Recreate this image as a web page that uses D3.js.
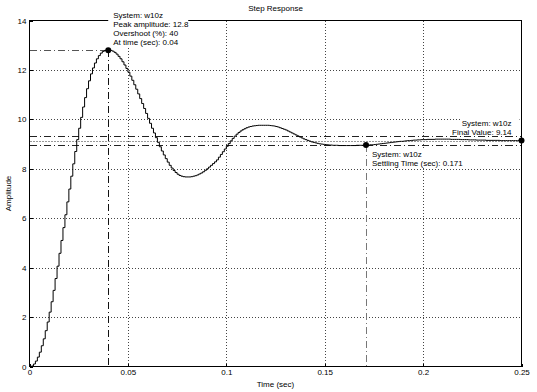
<!DOCTYPE html>
<html>
<head>
<meta charset="utf-8">
<script src="https://cdn.jsdelivr.net/npm/d3@7/dist/d3.min.js"></script>
<style>
  html, body { margin: 0; padding: 0; background: #fff; }
  svg { display: block; font-family: Arial, "Liberation Sans", sans-serif; }
</style>
</head>
<body>
<svg id="chart" width="537" height="392"></svg>
<script>
// ---- data ----
const sampleTime = 0.001;
const amplitude = [
  0, 0.02, 0.1, 0.22, 0.38, 0.58, 0.84, 1.12, 1.45, 1.8,
  2.2, 2.62, 3.08, 3.56, 4.06, 4.58, 5.1, 5.62, 6.14, 6.66,
  7.18, 7.7, 8.2, 8.7, 9.18, 9.64, 10.08, 10.5, 10.88, 11.24,
  11.56, 11.84, 12.08, 12.28, 12.45, 12.58, 12.68, 12.75, 12.79, 12.8,
  12.8, 12.79, 12.76, 12.71, 12.64, 12.55, 12.45, 12.33, 12.2, 12.06,
  11.91, 11.75, 11.58, 11.4, 11.22, 11.03, 10.84, 10.64, 10.44, 10.24,
  10.04, 9.84, 9.64, 9.45, 9.26, 9.07, 8.89, 8.72, 8.56, 8.41,
  8.27, 8.14, 8.03, 7.93, 7.85, 7.78, 7.73, 7.7, 7.68, 7.67,
  7.67, 7.67, 7.68, 7.7, 7.72, 7.75, 7.79, 7.83, 7.88, 7.94,
  8.0, 8.07, 8.14, 8.21, 8.28, 8.36, 8.47, 8.58, 8.69, 8.8,
  8.91, 9.02, 9.13, 9.23, 9.32, 9.4, 9.47, 9.53, 9.58, 9.62,
  9.66, 9.69, 9.71, 9.73, 9.74, 9.75, 9.76, 9.76, 9.76, 9.76,
  9.76, 9.76, 9.75, 9.74, 9.73, 9.71, 9.69, 9.66, 9.63, 9.6,
  9.57, 9.53, 9.49, 9.45, 9.41, 9.37, 9.33, 9.29, 9.25, 9.21,
  9.18, 9.15, 9.12, 9.09, 9.07, 9.05, 9.03, 9.01, 9.0, 8.99,
  8.98, 8.97, 8.96, 8.96, 8.95, 8.95, 8.95, 8.94, 8.94, 8.94,
  8.94, 8.94, 8.94, 8.94, 8.94, 8.94, 8.95, 8.95, 8.95, 8.95,
  8.95, 8.96, 8.96, 8.97, 8.97, 8.98, 8.99, 9.0, 9.01, 9.02,
  9.03, 9.04, 9.05, 9.06, 9.07, 9.08, 9.09, 9.1, 9.11, 9.11,
  9.12, 9.13, 9.14, 9.14, 9.15, 9.16, 9.16, 9.17, 9.17, 9.18,
  9.18, 9.18, 9.19, 9.19, 9.19, 9.19, 9.2, 9.2, 9.2, 9.2,
  9.2, 9.2, 9.2, 9.2, 9.19, 9.19, 9.19, 9.19, 9.19, 9.18,
  9.18, 9.18, 9.18, 9.17, 9.17, 9.17, 9.17, 9.16, 9.16, 9.16,
  9.16, 9.16, 9.15, 9.15, 9.15, 9.15, 9.15, 9.15, 9.15, 9.14,
  9.14, 9.14, 9.14, 9.14, 9.14, 9.14, 9.14, 9.14, 9.14, 9.14,
  9.14
];
const xTicks = [0, 0.05, 0.1, 0.15, 0.2, 0.25];
const xTickLabels = ["0", "0.05", "0.1", "0.15", "0.2", "0.25"];
const yTicks = [0, 2, 4, 6, 8, 10, 12, 14];
const yTickLabels = ["0", "2", "4", "6", "8", "10", "12", "14"];
const systemName = "w10z";
const peakTime = 0.04, peakAmplitude = 12.8, overshootPct = 40;
const settlingTime = 0.171, settlingValue = 8.96;
const finalValue = 9.14, settlingBand = 0.02;
const xDomain = [0, 0.25], yDomain = [0, 14];

// ---- drawing ----
(function () {
const svg = d3.select("#chart");
const pLeft = 29.5, pRight = 521.5, pTop = 20.5, pBottom = 366.5;
const x = d3.scaleLinear().domain(xDomain).range([pLeft, pRight]);
const y = d3.scaleLinear().domain(yDomain).range([pBottom, pTop]);
const series = amplitude.map((v, i) => ({ t: i * sampleTime, v }));

svg.append("rect").attr("width", 537).attr("height", 392).attr("fill", "#fff");

// grid
const grid = svg.append("g").attr("stroke", "#444").attr("stroke-width", 1)
  .attr("stroke-dasharray", "1,2").attr("shape-rendering", "crispEdges");
xTicks.filter(t => t > xDomain[0] && t < xDomain[1]).forEach(t => {
  const xx = Math.round(x(t)) + 0.5;
  grid.append("line").attr("x1", xx).attr("x2", xx).attr("y1", pTop).attr("y2", pBottom);
});
yTicks.filter(t => t > yDomain[0] && t < yDomain[1]).forEach(t => {
  const yy = Math.round(y(t)) + 0.5;
  grid.append("line").attr("x1", pLeft).attr("x2", pRight).attr("y1", yy).attr("y2", yy);
});

// axes (inside ticks, labels)
const xAxis = d3.axisBottom(x).tickValues(xTicks).tickFormat((d, i) => xTickLabels[i]).tickSizeInner(-3).tickSizeOuter(0).tickPadding(3);
const yAxis = d3.axisLeft(y).tickValues(yTicks).tickFormat((d, i) => yTickLabels[i]).tickSizeInner(-3).tickSizeOuter(0).tickPadding(3);
const gx = svg.append("g").attr("transform", `translate(0,${pBottom})`).call(xAxis);
const gy = svg.append("g").attr("transform", `translate(${pLeft},0)`).call(yAxis);
[gx, gy].forEach(g => {
  g.select(".domain").remove();
  g.selectAll("line").attr("stroke", "#000").attr("shape-rendering", "crispEdges");
  g.selectAll("text").attr("font-size", 8).attr("fill", "#000");
});
gx.selectAll("text").attr("dy", "0.71em");

// settling band and final value reference lines
const refs = svg.append("g").attr("shape-rendering", "crispEdges");
[finalValue * (1 + settlingBand), finalValue * (1 - settlingBand)].forEach(v => {
  refs.append("line").attr("x1", pLeft).attr("x2", pRight)
    .attr("y1", Math.round(y(v)) + 0.5).attr("y2", Math.round(y(v)) + 0.5)
    .attr("stroke", "#222").attr("stroke-dasharray", "7,3,1,3");
});
refs.append("line").attr("x1", pLeft).attr("x2", pRight)
  .attr("y1", Math.round(y(finalValue)) + 0.5).attr("y2", Math.round(y(finalValue)) + 0.5)
  .attr("stroke", "#999").attr("stroke-dasharray", "2,1");

// peak reference lines
refs.append("line").attr("x1", pLeft).attr("x2", x(peakTime))
  .attr("y1", Math.round(y(peakAmplitude)) + 0.5).attr("y2", Math.round(y(peakAmplitude)) + 0.5)
  .attr("stroke", "#555").attr("stroke-dasharray", "7,3,1,3");
refs.append("line").attr("x1", Math.round(x(peakTime)) + 0.5).attr("x2", Math.round(x(peakTime)) + 0.5)
  .attr("y1", y(peakAmplitude)).attr("y2", pBottom)
  .attr("stroke", "#111").attr("stroke-dasharray", "7,3,1,3");
// settling vertical line
refs.append("line").attr("x1", Math.round(x(settlingTime)) + 0.5).attr("x2", Math.round(x(settlingTime)) + 0.5)
  .attr("y1", y(settlingValue)).attr("y2", pBottom)
  .attr("stroke", "#777").attr("stroke-dasharray", "7,3,1,3");

// response (stairs)
const line = d3.line().x(d => x(d.t)).y(d => y(d.v)).curve(d3.curveStepAfter);
svg.append("path").datum(series).attr("d", line)
  .attr("fill", "none").attr("stroke", "#000").attr("stroke-width", 1);

// axes box
svg.append("rect").attr("x", pLeft).attr("y", pTop).attr("width", pRight - pLeft).attr("height", pBottom - pTop)
  .attr("fill", "none").attr("stroke", "#000").attr("shape-rendering", "crispEdges");

// data tips
function tip(lines, bx, by, bw, bh, tx, anchor, ty0) {
  svg.append("rect").attr("x", bx).attr("y", by).attr("width", bw).attr("height", bh).attr("fill", "#fff");
  lines.forEach((s, i) => {
    svg.append("text").attr("x", tx).attr("y", ty0 + i * 9).attr("dy", "0.35em")
      .attr("text-anchor", anchor).attr("font-size", 8).attr("fill", "#000").text(s);
  });
}
const px = x(peakTime), py = y(peakAmplitude);
tip([`System: ${systemName}`, `Peak amplitude: ${peakAmplitude}`, `Overshoot (%): ${overshootPct}`, `At time (sec): ${peakTime}`],
  px, py - 41, 80, 38, px + 5, "start", py - 34.5);
const fx = x(xDomain[1]), fy = y(finalValue);
tip([`System: ${systemName}`, `Final Value: ${finalValue}`], fx - 60, fy - 24, 58, 18, fx - 10, "end", fy - 17.5);
const sx = x(settlingTime), sy = y(settlingValue);
tip([`System: ${systemName}`, `Settling Time (sec): ${settlingTime}`], sx + 3, sy + 4, 84, 19, sx + 6, "start", sy + 9.5);

// markers
[[peakTime, peakAmplitude], [settlingTime, settlingValue], [xDomain[1], finalValue]].forEach(([t, v]) => {
  svg.append("circle").attr("cx", x(t)).attr("cy", y(v)).attr("r", 3).attr("fill", "#000");
});

// titles
svg.append("text").attr("x", (pLeft + pRight) / 2).attr("y", 8).attr("dy", "0.35em")
  .attr("text-anchor", "middle").attr("font-size", 8).text("Step Response");
svg.append("text").attr("x", (pLeft + pRight) / 2).attr("y", 384).attr("dy", "0.35em")
  .attr("text-anchor", "middle").attr("font-size", 8).text("Time (sec)");
svg.append("text").attr("transform", `translate(8,${(pTop + pBottom) / 2}) rotate(-90)`).attr("dy", "0.35em")
  .attr("text-anchor", "middle").attr("font-size", 8).text("Amplitude");
})();
</script>
</body>
</html>
